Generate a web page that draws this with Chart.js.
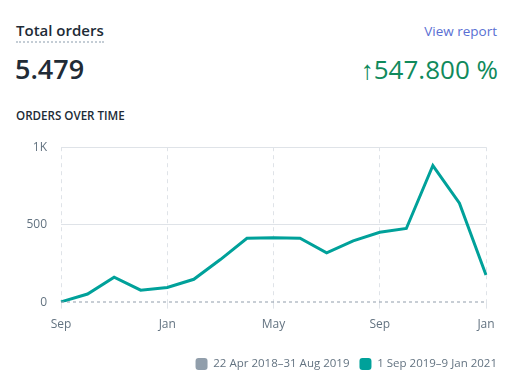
<!DOCTYPE html>
<html>
<head>
<meta charset="utf-8">
<script src="https://cdn.jsdelivr.net/npm/chart.js@4"></script>
<style>
  html, body { margin: 0; padding: 0; background: #fff; }
  body { width: 522px; height: 388px; position: relative; overflow: hidden; font-family: "Open Sans", "Noto Sans", sans-serif; color: #212b36; }
  .title { position: absolute; left: 16px; top: 20px; font-size: 15px; font-weight: 600; color: #212b36; border-bottom: 2px dotted #c4cdd5; line-height: 20px; padding-bottom: 1px; }
  .link { position: absolute; right: 25px; top: 22px; font-size: 13.5px; color: #5a6fd3; line-height: 18px; }
  .total { position: absolute; left: 15px; top: 51px; font-size: 27px; font-weight: 600; color: #212b36; line-height: 36px; }
  .change { position: absolute; right: 24px; top: 51px; font-size: 26px; color: #108a5c; line-height: 36px; }
  .sub { position: absolute; left: 16px; top: 108px; font-size: 11.6px; font-weight: 600; color: #212b36; line-height: 16px; }
  #wrap { position: absolute; left: 0; top: 126px; width: 522px; height: 254px; }
</style>
</head>
<body>
<div class="title">Total orders</div>
<div class="link">View report</div>
<div class="total">5.479</div>
<div class="change">↑547.800 %</div>
<div class="sub">ORDERS OVER TIME</div>
<div id="wrap"><canvas id="c"></canvas></div>
<script>
const months = ["Sep","Oct","Nov","Dec","Jan","Feb","Mar","Apr","May","Jun","Jul","Aug","Sep","Oct","Nov","Dec","Jan"];
const tickEvery = 4;
const previousLabel = "22 Apr 2018–31 Aug 2019";
const currentLabel = "1 Sep 2019–9 Jan 2021";
const previousValues = [0,0,0,0,0,0,0,0,0,0,0,0,0,0,0,0,0];
const currentValues = [5,55,163,80,97,150,277,414,418,414,320,397,453,477,882,640,178];
const yTicks = [0, 500, 1000];

const gridColor = "#dfe3e8";
new Chart(document.getElementById("c"), {
  type: "line",
  data: {
    labels: months,
    datasets: [
      { label: previousLabel, data: previousValues, borderColor: "#919eab", backgroundColor: "#919eab",
        borderWidth: 2, borderDash: [3, 3], pointRadius: 0, tension: 0 },
      { label: currentLabel, data: currentValues, borderColor: "#00a19a", backgroundColor: "#00a19a",
        borderWidth: 3, pointRadius: 0, tension: 0 }
    ]
  },
  options: {
    responsive: true,
    maintainAspectRatio: false,
    animation: false,
    layout: { padding: { left: 0, right: 15, top: 4, bottom: 0 } },
    plugins: {
      tooltip: { enabled: false },
      legend: {
        position: "bottom",
        align: "end",
        labels: {
          useBorderRadius: true, borderRadius: 3, boxWidth: 12, boxHeight: 12,
          color: "#637381", font: { family: "Open Sans", size: 11.5 }, padding: 10,
          generateLabels: (chart) => Chart.defaults.plugins.legend.labels.generateLabels(chart).map(it => {
            it.lineDash = []; it.lineWidth = 0; it.strokeStyle = it.fillStyle; return it;
          })
        }
      }
    },
    scales: {
      x: {
        afterFit: (s) => { s.paddingRight = Math.max(s.paddingRight, 36); s.height += 7; },
        grid: {
          color: (ctx) => ctx.index % tickEvery === 0 ? gridColor : "transparent",
          tickLength: 6, drawTicks: true
        },
        border: { display: false, dash: [4, 4] },
        ticks: {
          autoSkip: false, maxRotation: 0, color: "#637381", padding: 9,
          font: { family: "Open Sans", size: 12 },
          callback: function (v, i) { return i % tickEvery === 0 ? months[i] : ""; }
        }
      },
      y: {
        min: 0, max: 1000,
        afterFit: (s) => { s.width = 61; },
        afterBuildTicks: (s) => { s.ticks = yTicks.map(v => ({ value: v })); },
        grid: { color: (ctx) => ctx.tick && ctx.tick.value === 0 ? "transparent" : gridColor, drawTicks: false },
        border: { display: false },
        ticks: {
          color: "#637381", padding: 14,
          font: { family: "Open Sans", size: 12 },
          callback: (v) => v >= 1000 ? (v / 1000) + "K" : v
        }
      }
    }
  }
});
</script>
</body>
</html>
